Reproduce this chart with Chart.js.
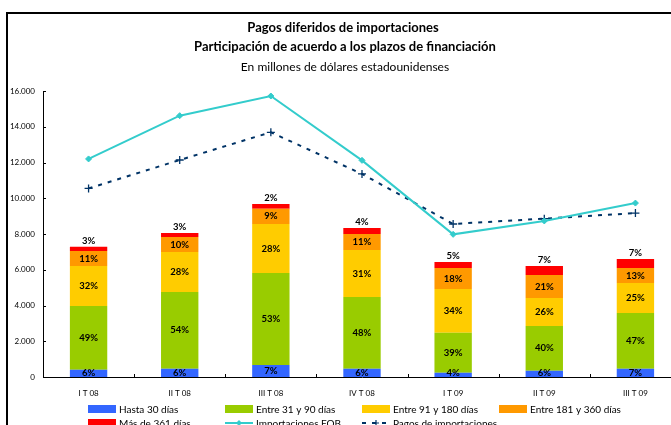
<!DOCTYPE html>
<html>
<head>
<meta charset="utf-8">
<script src="https://cdn.jsdelivr.net/npm/chart.js@4/dist/chart.umd.min.js"></script>
<style>
  html, body { margin: 0; padding: 0; background: #fff; overflow: hidden; }
  #wrap { position: absolute; left: 0; top: 0; width: 690px; height: 440px; }
</style>
</head>
<body>
<div id="wrap"><canvas id="c" width="690" height="440"></canvas></div>
<script>
const categories = ["I T 08", "II T 08", "III T 08", "IV T 08", "I T 09", "II T 09", "III T 09"];
const hasta30 = [400, 464, 671, 464, 242, 352, 464];
const entre31y90 = [3570, 4291, 5147, 4012, 2238, 2501, 3116];
const entre91y180 = [2240, 2235, 2742, 2629, 2443, 1567, 1679];
const entre181y360 = [840, 840, 855, 895, 1175, 1286, 839];
const mas361 = [240, 226, 263, 336, 336, 504, 503];
const importacionesFOB = [12200, 14620, 15720, 12120, 7980, 8730, 9730];
const pagosImportaciones = [10550, 12140, 13690, 11360, 8560, 8860, 9170];
const pctHasta30 = [6, 6, 7, 6, 4, 6, 7];
const pct31y90 = [49, 54, 53, 48, 39, 40, 47];
const pct91y180 = [32, 28, 28, 31, 34, 26, 25];
const pct181y360 = [11, 10, 9, 11, 18, 21, 13];
const pctMas361 = [3, 3, 2, 4, 5, 7, 7];
const yTicks = [0, 2000, 4000, 6000, 8000, 10000, 12000, 14000, 16000];
const titleLines = ["Pagos diferidos de importaciones", "Participación de acuerdo a los plazos de financiación"];
const subtitleText = "En millones de dólares estadounidenses";

const FONT = "Lato, 'DejaVu Sans', sans-serif";
const colors = {
  blue: '#3366FF', green: '#99CC00', yellow: '#FFCC00', orange: '#FF9900', red: '#FF0000',
  cyan: '#33CCCC', navy: '#003366'
};

const pctArrays = [pctHasta30, pct31y90, pct91y180, pct181y360, pctMas361];

const decorPlugin = {
  id: 'decor',
  beforeDraw(chart) {
    const ctx = chart.ctx;
    ctx.save();
    ctx.fillStyle = '#fff';
    ctx.fillRect(0, 0, chart.width, chart.height);
    ctx.restore();
  },
  afterDatasetsDraw(chart) {
    const ctx = chart.ctx;
    const ca = chart.chartArea;
    const x = chart.scales.x, y = chart.scales.y;
    ctx.save();
    ctx.strokeStyle = '#000';
    ctx.lineWidth = 1;
    yTicks.forEach(v => {
      const py = Math.round(y.getPixelForValue(v)) + 0.5;
      ctx.beginPath(); ctx.moveTo(ca.left, py); ctx.lineTo(ca.left + 3, py); ctx.stroke();
    });
    for (let i = 1; i < categories.length; i++) {
      const px = Math.round((x.getPixelForValue(i - 1) + x.getPixelForValue(i)) / 2) + 0.5;
      ctx.beginPath(); ctx.moveTo(px, ca.bottom); ctx.lineTo(px, ca.bottom - 3); ctx.stroke();
    }
    ctx.fillStyle = '#000';
    ctx.font = "bold 9.5px " + FONT;
    ctx.textAlign = 'center';
    ctx.textBaseline = 'middle';
    for (let d = 0; d < 5; d++) {
      const meta = chart.getDatasetMeta(d);
      meta.data.forEach((bar, i) => {
        const txt = pctArrays[d][i] + '%';
        let ty;
        if (d === 4) {
          ty = bar.y - 6;
        } else if (d === 0) {
          ty = Math.min((bar.y + bar.base) / 2, bar.base - 4);
        } else {
          ty = (bar.y + bar.base) / 2;
        }
        ctx.fillText(txt, bar.x, ty);
      });
    }
    ctx.restore();
  },
  afterDraw(chart) {
    const ctx = chart.ctx;
    ctx.save();
    ctx.strokeStyle = '#000';
    ctx.lineWidth = 2;
    ctx.strokeRect(7, 13, 720, 500);
    ctx.fillStyle = '#000';
    ctx.textAlign = 'center';
    ctx.textBaseline = 'middle';
    ctx.font = "bold 13px " + FONT;
    ctx.fillText(titleLines[0], 343, 28);
    ctx.fillText(titleLines[1], 345, 47);
    ctx.font = "12px " + FONT;
    ctx.fillText(subtitleText, 345, 67);
    const ds = chart.data.datasets;
    const cols = [88, 225, 362, 499];
    const rows = [409, 423];
    ctx.font = "10px " + FONT;
    ctx.textAlign = 'left';
    ds.forEach((d, k) => {
      const cx = cols[k % 4];
      const cy = rows[Math.floor(k / 4)];
      if (d.type === 'line') {
        ctx.strokeStyle = d.borderColor;
        ctx.lineWidth = 2;
        ctx.setLineDash(d.borderDash || []);
        ctx.beginPath(); ctx.moveTo(cx, cy); ctx.lineTo(cx + 28, cy); ctx.stroke();
        ctx.setLineDash([]);
        if (d.pointStyle === 'cross') {
          ctx.lineWidth = 1.2;
          ctx.beginPath();
          ctx.moveTo(cx + 14 - 3, cy); ctx.lineTo(cx + 14 + 3, cy);
          ctx.moveTo(cx + 14, cy - 3); ctx.lineTo(cx + 14, cy + 3);
          ctx.stroke();
        } else {
          ctx.fillStyle = d.borderColor;
          ctx.beginPath();
          ctx.moveTo(cx + 14, cy - 3); ctx.lineTo(cx + 17, cy); ctx.lineTo(cx + 14, cy + 3); ctx.lineTo(cx + 11, cy);
          ctx.closePath(); ctx.fill();
        }
      } else {
        ctx.fillStyle = d.backgroundColor;
        ctx.fillRect(cx, cy - 4, 28, 8);
      }
      ctx.fillStyle = '#000';
      ctx.fillText(d.label, cx + 31, cy + 0.5);
    });
    ctx.restore();
  }
};

const barCommon = { type: 'bar', stack: 's', order: 2, barPercentage: 0.41, categoryPercentage: 1, borderWidth: 0 };

new Chart(document.getElementById('c'), {
  data: {
    labels: categories,
    datasets: [
      Object.assign({ label: 'Hasta 30 días', data: hasta30, backgroundColor: colors.blue }, barCommon),
      Object.assign({ label: 'Entre 31 y 90 días', data: entre31y90, backgroundColor: colors.green }, barCommon),
      Object.assign({ label: 'Entre 91 y 180 días', data: entre91y180, backgroundColor: colors.yellow }, barCommon),
      Object.assign({ label: 'Entre 181 y 360 días', data: entre181y360, backgroundColor: colors.orange }, barCommon),
      Object.assign({ label: 'Más de 361 días', data: mas361, backgroundColor: colors.red }, barCommon),
      { type: 'line', label: 'Importaciones FOB', data: importacionesFOB, stack: 'fob', borderColor: colors.cyan, backgroundColor: colors.cyan,
        borderWidth: 2, pointStyle: 'rectRot', pointRadius: 3, pointBorderWidth: 1, pointBackgroundColor: colors.cyan,
        tension: 0, order: 0, fill: false },
      { type: 'line', label: 'Pagos de importaciones', data: pagosImportaciones, stack: 'pagos', borderColor: colors.navy, backgroundColor: colors.navy,
        borderWidth: 2, borderDash: [4, 6], pointStyle: 'cross', pointRadius: 4, pointBorderWidth: 1.3,
        tension: 0, order: 1, fill: false }
    ]
  },
  options: {
    responsive: false,
    animation: false,
    devicePixelRatio: 1,
    layout: { padding: { left: 0, top: 91, right: 9, bottom: 0 } },
    plugins: { legend: { display: false }, title: { display: false }, tooltip: { enabled: false } },
    scales: {
      x: {
        stacked: true,
        offset: true,
        grid: { display: false, drawTicks: false },
        border: { display: true, color: '#000', width: 1 },
        ticks: { color: '#000', font: { family: FONT, size: 8 }, padding: 12, maxRotation: 0, autoSkip: false },
        afterFit(s) { s.height = 63; }
      },
      y: {
        stacked: true,
        min: 0, max: 16000,
        afterBuildTicks(s) { s.ticks = yTicks.map(v => ({ value: v })); },
        grid: { display: false, drawTicks: false },
        border: { display: true, color: '#000', width: 1 },
        ticks: {
          color: '#000', font: { family: FONT, size: 8 }, padding: 8,
          callback: v => v === 0 ? '0' : v.toLocaleString('de-DE')
        },
        afterFit(s) { s.width = 43; }
      }
    }
  },
  plugins: [decorPlugin]
});
</script>
</body>
</html>
